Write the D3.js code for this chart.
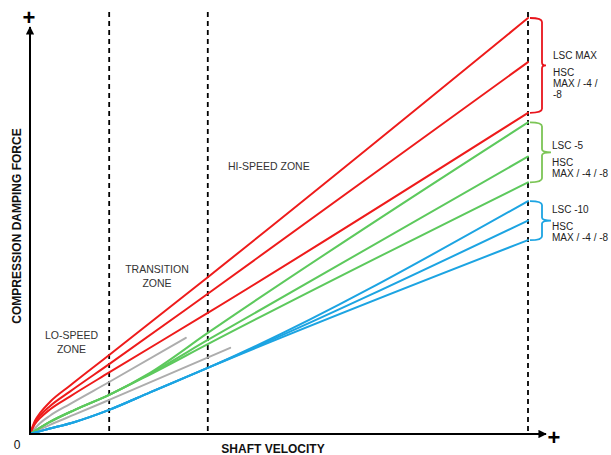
<!DOCTYPE html>
<html><head><meta charset="utf-8">
<script src="https://cdn.jsdelivr.net/npm/d3@7"></script>
<style>
html,body{margin:0;padding:0;background:#fff;}
svg{display:block;}
text{font-family:"Liberation Sans",Arial,sans-serif;}
</style></head>
<body>
<svg id="chart" width="611" height="455"></svg>
<script>
// ---- data (velocity %, force %) ----
const zoneEdges = [15.9, 35.7, 100];
const zoneNames = [["LO-SPEED","ZONE"],["TRANSITION","ZONE"],["HI-SPEED ZONE"]];

const redLscMax   = [[0,0],[1,3.2],[2,5.0],[4,7.7],[8,11.6],[15.9,19.0],[35.7,37.7],[100,100]];
const redHsc4     = [[0,0],[1,2.8],[2,4.4],[4,6.7],[8,10.2],[15.9,16.8],[35.7,33.7],[100,89.4]];
const redHsc8     = [[0,0],[1,2.4],[2,3.8],[4,5.9],[8,9.0],[15.9,14.8],[35.7,29.1],[100,77.2]];
const grayUpper   = [[0,0],[2,2.6],[4,4.4],[8,7.2],[15.9,12.5],[31.3,23.1]];
const grayLower   = [[0,0],[4,2.2],[9,4.7],[15.9,8.2],[40.2,20.7]];
const greenLsc5   = [[0,0],[4,2.9],[9,5.8],[15.9,9.4],[24.1,14.7],[35.7,24.3],[100,74.9]];
const greenHsc4   = [[0,0],[4,2.9],[9,5.8],[15.9,9.4],[24.1,14.5],[35.7,22.6],[100,66.7]];
const greenHsc8   = [[0,0],[4,2.9],[9,5.8],[15.9,9.4],[24.1,14.3],[35.7,21.6],[100,60.5]];
const blueLsc10   = [[0,0],[3,1.0],[9,2.9],[15.9,5.8],[24.1,10.0],[36.5,16.3],[100,56.0]];
const blueHsc4    = [[0,0],[3,1.0],[9,2.9],[15.9,5.8],[24.1,10.0],[36.5,16.3],[100,51.3]];
const blueHsc8    = [[0,0],[3,1.0],[9,2.9],[15.9,5.8],[24.1,10.0],[36.5,16.3],[100,46.6]];

const groupRanges = [[100,77.2],[74.9,60.5],[56.0,46.6]];
const groupLabels = [["LSC MAX","HSC","MAX / -4 /","-8"],["LSC -5","HSC","MAX / -4 / -8"],["LSC -10","HSC","MAX / -4 / -8"]];

const xTitle = "SHAFT VELOCITY";
const yTitle = "COMPRESSION DAMPING FORCE";

// ---- drawing ----
const svg = d3.select("#chart");
const x = d3.scaleLinear().domain([0,100]).range([30,528]);
const y = d3.scaleLinear().domain([0,100]).range([434,18]);

const RED="#ee1b1b", GREEN="#5dc95d", BLUE="#1ca4e2", GRAY="#adadad";

const defs = svg.append("defs");
defs.append("marker").attr("id","arr").attr("viewBox","0 0 10 10")
  .attr("refX",9).attr("refY",5).attr("markerWidth",4.2).attr("markerHeight",4.2)
  .attr("markerUnits","strokeWidth").attr("orient","auto")
  .append("path").attr("d","M0,0L10,5L0,10z").attr("fill","#000");

// dashed zone boundaries
svg.append("g").selectAll("line").data(zoneEdges).join("line")
  .attr("x1",d=>x(d)).attr("x2",d=>x(d)).attr("y1",12).attr("y2",y(0))
  .attr("stroke","#000").attr("stroke-width",1.8).attr("stroke-dasharray","5,4");

// curves
const line = d3.line().x(d=>x(d[0])).y(d=>y(d[1])).curve(d3.curveMonotoneX);
const series = [
  [grayUpper,GRAY],[grayLower,GRAY],
  [redLscMax,RED],[redHsc4,RED],[redHsc8,RED],
  [greenLsc5,GREEN],[greenHsc4,GREEN],[greenHsc8,GREEN],
  [blueLsc10,BLUE],[blueHsc4,BLUE],[blueHsc8,BLUE]
];
svg.append("g").selectAll("path").data(series).join("path")
  .attr("d",d=>line(d[0])).attr("fill","none").attr("stroke",d=>d[1])
  .attr("stroke-width",2).attr("stroke-linecap","round");

// axes
svg.append("line").attr("x1",x(0)).attr("y1",y(0)+1).attr("x2",x(0)).attr("y2",27)
  .attr("stroke","#000").attr("stroke-width",2).attr("marker-end","url(#arr)");
svg.append("line").attr("x1",x(0)-1).attr("y1",y(0)).attr("x2",546).attr("y2",y(0))
  .attr("stroke","#000").attr("stroke-width",2).attr("marker-end","url(#arr)");

svg.append("text").attr("x",29).attr("y",17).attr("text-anchor","middle")
  .attr("dominant-baseline","central").attr("font-size",22).attr("font-weight","bold").text("+");
svg.append("text").attr("x",554).attr("y",437).attr("text-anchor","middle")
  .attr("dominant-baseline","central").attr("font-size",22).attr("font-weight","bold").text("+");
svg.append("text").attr("x",17).attr("y",449).attr("text-anchor","middle")
  .attr("font-size",12).attr("fill","#111").text("0");

svg.append("text").attr("x",273).attr("y",453).attr("text-anchor","middle")
  .attr("font-size",12).attr("font-weight","bold").attr("fill","#111").text(xTitle);
svg.append("text").attr("transform","translate(21,226) rotate(-90)").attr("text-anchor","middle")
  .attr("font-size",12).attr("font-weight","bold").attr("fill","#111").text(yTitle);

// zone labels
const zoneLab = svg.append("g").attr("font-size",10.5).attr("fill","#333");
const zonePos = [[71.5,339,"middle"],[157,273,"middle"],[228,170,"start"]];
zoneNames.forEach((lines,i)=>{
  const t = zoneLab.append("text").attr("x",zonePos[i][0]).attr("y",zonePos[i][1])
    .attr("text-anchor",zonePos[i][2]);
  lines.forEach((s,j)=>t.append("tspan").attr("x",zonePos[i][0]).attr("dy",j?14:0).text(s));
});

// braces
const braceCols = ["#e8141c","#7cc556","#1ca4e2"];
const tipX = [546,551,551];
groupRanges.forEach((r,i)=>{
  const y0=y(r[0]), y1=y(r[1]), ym=(y0+y1)/2, xv=542, xs=530;
  const p = d3.path();
  p.moveTo(xs,y0); p.quadraticCurveTo(xv,y0,xv,y0+4);
  p.lineTo(xv,ym-3); p.quadraticCurveTo(xv,ym,tipX[i],ym);
  p.quadraticCurveTo(xv,ym,xv,ym+3);
  p.lineTo(xv,y1-4); p.quadraticCurveTo(xv,y1,xs,y1);
  svg.append("path").attr("d",p.toString()).attr("fill","none")
    .attr("stroke",braceCols[i]).attr("stroke-width",1.8);
});

// group labels: each line is its own text element
const glab = svg.append("g").attr("font-size",10).attr("fill","#222");
const gStart = [[553,59],[552,149],[552,213]];
const gOffsets = [0,17,28,39];
groupLabels.forEach((lines,i)=>{
  lines.forEach((s,j)=>glab.append("text").attr("x",gStart[i][0])
    .attr("y",gStart[i][1]+gOffsets[j]).text(s));
});
</script>
</body></html>
